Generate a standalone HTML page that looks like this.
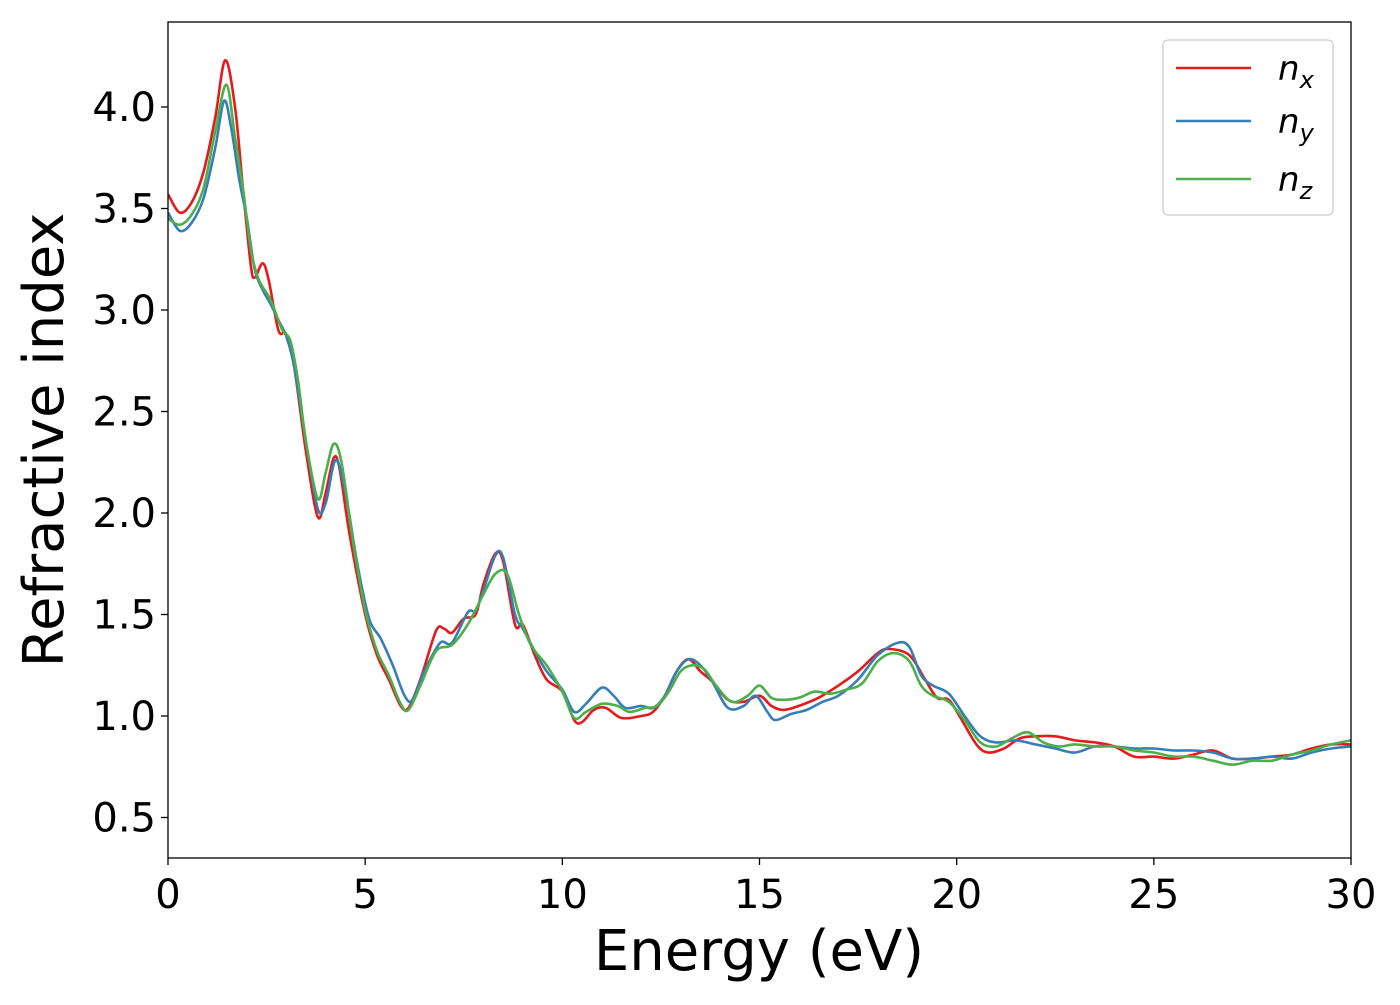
<!DOCTYPE html>
<html><head><meta charset="utf-8"><style>
html,body{margin:0;padding:0;background:#fff;}
svg text{font-family:"DejaVu Sans","Liberation Sans",sans-serif;fill:#000;}
</style></head><body>
<svg id="chart" width="1400" height="1000" xmlns="http://www.w3.org/2000/svg">
<rect width="1400" height="1000" fill="#fff"/>
<g id="series"></g>
<g id="axes"></g>
<rect x="168" y="22" width="1183" height="836" fill="none" stroke="#000" stroke-width="1.3"/>
<text x="759" y="970" font-size="56" text-anchor="middle">Energy (eV)</text>
<text transform="translate(63,440) rotate(-90)" font-size="56" text-anchor="middle">Refractive index</text>
<g>
<rect x="1163" y="40" width="170" height="175" rx="5" fill="#fff" stroke="#ccc" stroke-width="1.3"/>
<line x1="1176" y1="68" x2="1251" y2="68" stroke="#e41a1c" stroke-width="2.5"/>
<line x1="1176" y1="121" x2="1251" y2="121" stroke="#377eb8" stroke-width="2.5"/>
<line x1="1176" y1="179" x2="1251" y2="179" stroke="#4daf4a" stroke-width="2.5"/>
<text x="1278" y="80" font-size="34" font-style="italic">n<tspan font-size="24" dy="8">x</tspan></text>
<text x="1278" y="133" font-size="34" font-style="italic">n<tspan font-size="24" dy="8">y</tspan></text>
<text x="1278" y="191" font-size="34" font-style="italic">n<tspan font-size="24" dy="8">z</tspan></text>
</g>
</svg>
<script>
const xTicks=[0,5,10,15,20,25,30];
const yTicks=[0.5,1.0,1.5,2.0,2.5,3.0,3.5,4.0];
const yTickLabels=["0.5","1.0","1.5","2.0","2.5","3.0","3.5","4.0"];
const nxE=[0,0.3,0.6,0.9,1.2,1.45,1.7,1.9,2.1,2.2,2.4,2.55,2.8,3.0,3.2,3.5,3.8,4.0,4.2,4.35,4.6,5.0,5.3,5.6,5.9,6.1,6.4,6.8,7.0,7.2,7.5,7.8,8.0,8.3,8.5,8.8,9.0,9.3,9.6,10.0,10.3,10.5,10.8,11.1,11.5,12.0,12.3,12.6,12.9,13.2,13.5,13.8,14.2,14.6,15.0,15.3,15.6,16.0,16.5,17.0,17.5,18.0,18.3,18.8,19.2,19.5,19.8,20.1,20.5,20.8,21.2,21.6,22.0,22.5,23.0,23.5,24.0,24.5,25.0,25.5,26.0,26.5,27.0,27.5,28.0,28.5,29.0,29.5,30];
const nxV=[3.57,3.48,3.53,3.68,3.95,4.23,4.0,3.6,3.22,3.16,3.23,3.15,2.9,2.88,2.72,2.3,1.98,2.1,2.27,2.22,1.9,1.5,1.3,1.18,1.05,1.04,1.18,1.42,1.43,1.41,1.48,1.5,1.65,1.8,1.76,1.45,1.45,1.3,1.18,1.12,0.98,0.97,1.03,1.04,0.99,1.0,1.02,1.1,1.22,1.28,1.22,1.17,1.08,1.07,1.1,1.05,1.03,1.05,1.09,1.15,1.22,1.31,1.33,1.3,1.18,1.09,1.08,0.99,0.86,0.82,0.84,0.89,0.9,0.9,0.88,0.87,0.85,0.8,0.8,0.79,0.81,0.83,0.79,0.79,0.8,0.81,0.84,0.86,0.86];
const nyE=[0,0.3,0.6,0.9,1.2,1.42,1.6,1.8,2.0,2.2,2.4,2.6,2.8,3.0,3.2,3.5,3.8,4.0,4.25,4.5,4.8,5.1,5.4,5.7,6.0,6.2,6.5,6.9,7.2,7.6,7.8,8.0,8.3,8.5,8.8,9.0,9.3,9.6,10.0,10.3,10.6,11.0,11.3,11.6,12.0,12.3,12.6,12.9,13.2,13.5,13.8,14.2,14.6,14.9,15.2,15.4,15.8,16.2,16.6,17.0,17.5,18.0,18.5,18.8,19.1,19.4,19.8,20.2,20.6,21.0,21.5,22.0,22.5,23.0,23.5,24.0,24.5,25.0,25.5,26.0,26.5,27.0,27.5,28.0,28.5,29.0,29.5,30];
const nyV=[3.48,3.39,3.43,3.55,3.8,4.03,3.9,3.65,3.45,3.2,3.1,3.03,2.95,2.87,2.72,2.35,2.02,2.05,2.26,2.1,1.75,1.48,1.38,1.25,1.1,1.08,1.22,1.36,1.36,1.51,1.52,1.62,1.79,1.78,1.5,1.43,1.32,1.22,1.13,1.02,1.06,1.14,1.1,1.04,1.05,1.04,1.1,1.22,1.28,1.25,1.17,1.04,1.05,1.1,1.02,0.98,1.01,1.03,1.07,1.1,1.18,1.3,1.36,1.34,1.2,1.15,1.11,1.0,0.9,0.87,0.88,0.86,0.84,0.82,0.85,0.85,0.84,0.84,0.83,0.83,0.82,0.79,0.79,0.8,0.79,0.82,0.84,0.85];
const nzE=[0,0.3,0.6,0.9,1.2,1.48,1.7,1.9,2.1,2.3,2.6,2.9,3.1,3.3,3.5,3.8,4.0,4.2,4.4,4.7,5.0,5.3,5.6,5.9,6.1,6.4,6.8,7.2,7.6,8.0,8.3,8.6,8.9,9.2,9.6,10.0,10.3,10.6,11.0,11.4,11.7,12.1,12.4,12.7,13.0,13.3,13.6,13.9,14.3,14.7,15.0,15.3,15.6,16.0,16.4,16.8,17.2,17.6,18.0,18.4,18.8,19.1,19.4,19.8,20.2,20.6,21.0,21.4,21.8,22.2,22.6,23.0,23.5,24.0,24.5,25.0,25.5,26.0,26.5,27.0,27.5,28.0,28.5,29.0,29.5,30];
const nzV=[3.45,3.42,3.47,3.6,3.88,4.11,3.85,3.6,3.3,3.15,3.05,2.9,2.85,2.65,2.35,2.07,2.2,2.34,2.25,1.85,1.52,1.32,1.2,1.06,1.03,1.15,1.32,1.35,1.45,1.6,1.7,1.7,1.5,1.35,1.25,1.12,0.99,1.02,1.06,1.05,1.02,1.04,1.05,1.12,1.22,1.25,1.23,1.15,1.07,1.1,1.15,1.09,1.08,1.09,1.12,1.11,1.13,1.16,1.27,1.31,1.27,1.15,1.1,1.07,0.98,0.87,0.85,0.89,0.92,0.87,0.85,0.86,0.85,0.85,0.83,0.82,0.8,0.8,0.78,0.76,0.78,0.78,0.81,0.83,0.86,0.88];

const X0=168,X1=1351,xMin=0,xMax=30;
const xS=e=>X0+(e-xMin)/(xMax-xMin)*(X1-X0);
const yS=v=>716-(v-1.0)*203;
const NS="http://www.w3.org/2000/svg";
const ax=document.getElementById('axes');
xTicks.forEach(t=>{
  const l=document.createElementNS(NS,'line');
  
  
  l.setAttribute('x1',xS(t));l.setAttribute('x2',xS(t));l.setAttribute('y1',858);l.setAttribute('y2',865);
  l.setAttribute('stroke','#000');l.setAttribute('stroke-width','1.3');ax.appendChild(l);
  const tx=document.createElementNS(NS,'text');
  
  
  tx.setAttribute('x',xS(t));tx.setAttribute('y',908);tx.setAttribute('font-size','40');tx.setAttribute('text-anchor','middle');
  tx.textContent=String(t);ax.appendChild(tx);
});
yTicks.forEach((t,i)=>{
  const l=document.createElementNS(NS,'line');
  
  
  l.setAttribute('x1',161);l.setAttribute('x2',168);l.setAttribute('y1',yS(t));l.setAttribute('y2',yS(t));
  l.setAttribute('stroke','#000');l.setAttribute('stroke-width','1.3');ax.appendChild(l);
  const tx=document.createElementNS(NS,'text');
  
  
  tx.setAttribute('x',156);tx.setAttribute('y',yS(t)+14);tx.setAttribute('font-size','40');tx.setAttribute('text-anchor','end');
  tx.textContent=yTickLabels[i];ax.appendChild(tx);
});
function pathFor(E,V){
  const p=E.map((e,i)=>[xS(e),yS(V[i])]);
  let d='M'+p[0][0].toFixed(1)+','+p[0][1].toFixed(1);
  for(let i=0;i<p.length-1;i++){
    const a=p[Math.max(0,i-1)],b=p[i],c=p[i+1],n=p[Math.min(p.length-1,i+2)];
    const c1=[b[0]+(c[0]-a[0])/6,b[1]+(c[1]-a[1])/6],c2=[c[0]-(n[0]-b[0])/6,c[1]-(n[1]-b[1])/6];
    d+=' C'+c1.map(v=>v.toFixed(1))+' '+c2.map(v=>v.toFixed(1))+' '+c[0].toFixed(1)+','+c[1].toFixed(1);
  }
  return d;
}
const sg=document.getElementById('series');
const cp=document.createElementNS(NS,'clipPath');cp.setAttribute('id','clip');
const cr=document.createElementNS(NS,'rect');cr.setAttribute('x',168);cr.setAttribute('y',22);cr.setAttribute('width',1183);cr.setAttribute('height',836);
cp.appendChild(cr);sg.appendChild(cp);sg.setAttribute('clip-path','url(#clip)');
[[nxE,nxV,'#e41a1c','line-nx'],[nyE,nyV,'#377eb8','line-ny'],[nzE,nzV,'#4daf4a','line-nz']].forEach(s=>{
  const p=document.createElementNS(NS,'path');
  
  
  p.setAttribute('d',pathFor(s[0],s[1]));p.setAttribute('fill','none');p.setAttribute('stroke',s[2]);p.setAttribute('stroke-width','2.6');
  sg.appendChild(p);
});
</script>
</body></html>
